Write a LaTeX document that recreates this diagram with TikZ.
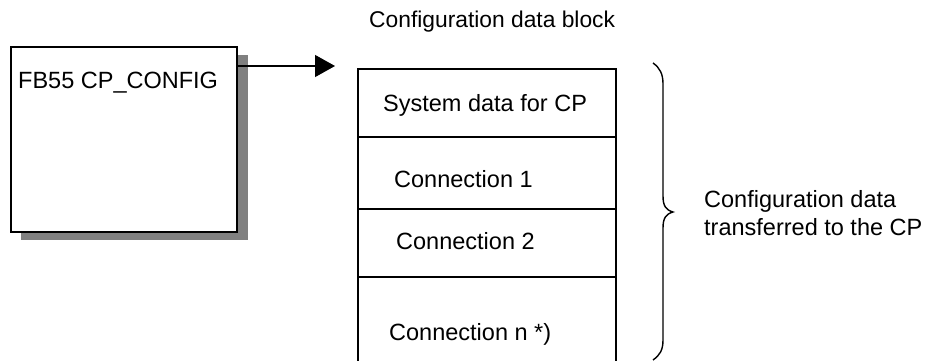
\documentclass[tikz,border=0pt]{standalone}
\usepackage{fontspec}
\setmainfont{Liberation Sans}
\usetikzlibrary{arrows.meta}
\begin{document}
\begin{tikzpicture}[x=1pt,y=-1pt,
  lbl/.style={anchor=base west,inner sep=0pt,font=\fontsize{23.5}{28}\selectfont},
  frame/.style={draw=black,line width=1.8pt},
  cell/.style={draw=black,line width=1.3pt}]
\useasboundingbox (0,0) rectangle (928,361);
% FB box with shadow
\fill[black!50] (21,55) rectangle (248,240);
\node[frame,fill=white,minimum width=226pt,minimum height=185pt,anchor=north west,inner sep=0pt] (fb) at (10,46) {};
\node[lbl] (fbt) at (18,88) {FB55 CP\_CONFIG};
% title
\node[lbl,font=\fontsize{22.8}{28}\selectfont] (title) at (369,28) {Configuration data block};
% data block
\coordinate (bl) at (358,361);
\coordinate (tl) at (358,69);
\coordinate (tr) at (616,69);
\coordinate (br) at (616,361);
\draw[cell] (bl) -- (tl) -- (tr) -- (br);
\draw[cell] (358,137) -- (616,137);
\draw[cell] (358,209) -- (616,209);
\draw[cell] (358,277) -- (616,277);
\node[lbl] (sys) at (383,111) {System data for CP};
\node[lbl] (c1) at (394,187) {Connection 1};
\node[lbl] (c2) at (396,249) {Connection 2};
\node[lbl] (cn) at (389,340) {Connection n *)};
% arrow
\coordinate (arrowend) at (335,66);
\draw[line width=1.3pt,-{Triangle[length=20pt,width=22pt]}] (fb.east |- arrowend) -- (arrowend);
% brace
\draw[line width=1.4pt] (653,63) .. controls (660,68) and (663,74) .. (663,84)
  -- (663,196) .. controls (663,206) and (666,210) .. (673,212)
  .. controls (666,214) and (663,218) .. (663,228)
  -- (663,340) .. controls (663,350) and (660,355) .. (653,360);
% side label
\node[lbl] (side1) at (704,207) {Configuration data};
\node[lbl] (side2) at (704,235) {transferred to the CP};
\end{tikzpicture}
\end{document}
